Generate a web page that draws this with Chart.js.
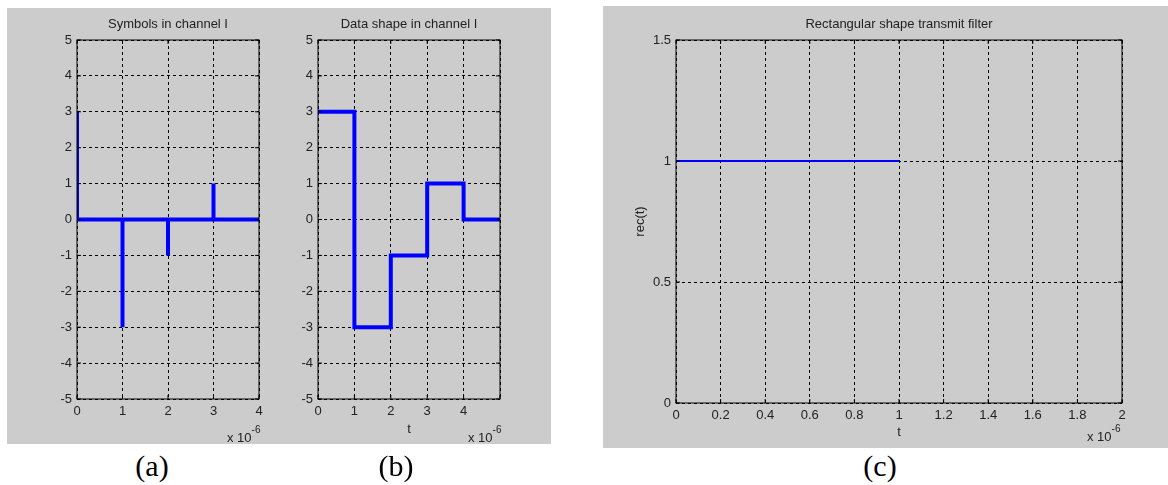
<!DOCTYPE html>
<html>
<head>
<meta charset="UTF-8">
<title>Symbols, data shape and transmit filter</title>
<script src="https://cdn.jsdelivr.net/npm/chart.js@4.4.1/dist/chart.umd.min.js"></script>
<style>
body { margin:0; background:#fff; width:1168px; height:485px; position:relative; overflow:hidden; font-family:"Liberation Sans", Arial, sans-serif; }
.panel { position:absolute; background:#cccccc; }
canvas { position:absolute; }
.exp { position:absolute; font-size:13px; line-height:13px; color:#222; white-space:nowrap; }
.exp span { font-size:10px; position:relative; top:-9px; }
.cap { position:absolute; font-family:"Liberation Serif", "Times New Roman", serif; font-size:30px; line-height:30px; transform:translateX(-50%); }
</style>
</head>
<body>
<div class="panel" style="left:7px;top:8px;width:544px;height:436px"></div>
<div class="panel" style="left:603px;top:6px;width:565px;height:442px"></div>
<canvas id="chA" width="283" height="436" style="left:7px;top:8px"></canvas>
<canvas id="chB" width="261" height="436" style="left:290px;top:8px"></canvas>
<canvas id="chC" width="565" height="442" style="left:603px;top:6px"></canvas>
<div class="exp" style="left:227px;top:431px">x 10<span>-6</span></div>
<div class="exp" style="left:468px;top:431px">x 10<span>-6</span></div>
<div class="exp" style="left:1087px;top:430px">x 10<span>-6</span></div>
<div class="cap" style="left:152px;top:451px">(a)</div>
<div class="cap" style="left:396px;top:451px">(b)</div>
<div class="cap" style="left:880px;top:451px">(c)</div>

<script type="text/javascript">
// time axis in units of 1e-6 s
const symTime = [0, 1, 2, 3];
const symValue = [3, -3, -1, 1];
const symEnd = 4;

const shapeTime = [0, 1, 2, 3, 4, 5];
const shapeValue = [3, -3, -1, 1, 0, 0];

const recTime = [0, 1];
const recValue = [1, 1];

const yTicksAB = [-5, -4, -3, -2, -1, 0, 1, 2, 3, 4, 5];
const xTicksA = [0, 1, 2, 3, 4];
const xTicksB = [0, 1, 2, 3, 4, 5];
const xLabelsB = ['0', '1', '2', '3', '4', ''];
const yTicksC = [0, 0.5, 1, 1.5];
const xTicksC = [0, 0.2, 0.4, 0.6, 0.8, 1, 1.2, 1.4, 1.6, 1.8, 2];

Chart.defaults.font.family = '"Liberation Sans", Arial, sans-serif';
Chart.defaults.font.size = 13;
Chart.defaults.color = '#222';

// stem path: baseline with a vertical spike at each symbol
let stem = [];
symTime.forEach(function (t, i) {
    stem.push({x: t, y: 0}, {x: t, y: symValue[i]}, {x: t, y: 0});
});
stem.push({x: symEnd, y: 0});

let shape = shapeTime.map(function (t, i) { return {x: t, y: shapeValue[i]}; });
let rec = recTime.map(function (t, i) { return {x: t, y: recValue[i]}; });

// MATLAB style solid box with inner tick marks
const boxPlugin = {
    id: 'matlabBox',
    afterDatasetsDraw(chart) {
        const ctx = chart.ctx, a = chart.chartArea;
        const sx = chart.scales.x, sy = chart.scales.y;
        const tl = 4;
        ctx.save();
        ctx.setLineDash([]);
        ctx.strokeStyle = '#000';
        ctx.lineWidth = 1;
        ctx.beginPath();
        sx.ticks.forEach(function (t) {
            const px = sx.getPixelForValue(t.value);
            ctx.moveTo(px, a.bottom); ctx.lineTo(px, a.bottom - tl);
            ctx.moveTo(px, a.top); ctx.lineTo(px, a.top + tl);
        });
        sy.ticks.forEach(function (t) {
            const py = sy.getPixelForValue(t.value);
            ctx.moveTo(a.left, py); ctx.lineTo(a.left + tl, py);
            ctx.moveTo(a.right, py); ctx.lineTo(a.right - tl, py);
        });
        ctx.stroke();
        ctx.strokeRect(a.left, a.top, a.right - a.left, a.bottom - a.top);
        ctx.restore();
    }
};

function scale(min, max, ticks, labels, fit) {
    return {
        type: 'linear', min: min, max: max,
        afterBuildTicks: function (s) { s.ticks = ticks.map(function (v) { return {value: v}; }); },
        afterFit: fit,
        grid: { color: '#000', lineWidth: 1, drawTicks: false },
        border: { display: false, dash: [3, 3] },
        ticks: {
            padding: 5, autoSkip: false, maxRotation: 0, color: '#222',
            callback: function (v, i) { return labels ? labels[i] : String(v); }
        }
    };
}

function makeChart(id, points, width, title, titlePad, pad, x, y) {
    return new Chart(document.getElementById(id), {
        type: 'line',
        data: { datasets: [{
            data: points, borderColor: '#0000ff', borderWidth: width,
            pointRadius: 0, tension: 0, clip: 0,
            borderJoinStyle: 'miter', borderCapStyle: 'butt',
            stepped: id === 'chB'
        }]},
        options: {
            responsive: false, animation: false, devicePixelRatio: 1,
            layout: { padding: pad },
            plugins: {
                legend: { display: false }, tooltip: { enabled: false },
                title: { display: true, text: title, fullSize: false, color: '#222',
                         font: { size: 13, weight: 'normal' }, padding: titlePad }
            },
            scales: { x: x, y: y }
        },
        plugins: [boxPlugin]
    });
}

// (a)
makeChart('chA', stem, 4, 'Symbols in channel I', {top: 8.2, bottom: 8.2},
    {left: 50, right: 31, top: 0, bottom: 0},
    scale(0, 4, xTicksA, null, function (s) { s.height = 45; }),
    scale(-5, 5, yTicksAB, null, function (s) { s.width = 20; }));

// (b)
let xb = scale(0, 5, xTicksB, xLabelsB, function (s) { s.height = 45; });
xb.title = { display: true, text: 't', color: '#222', font: {size: 13}, padding: {top: 0, bottom: 7.2} };
makeChart('chB', shape, 4, 'Data shape in channel I', {top: 8.2, bottom: 8.2},
    {left: 8, right: 51, top: 0, bottom: 0},
    xb,
    scale(-5, 5, yTicksAB, null, function (s) { s.width = 20; }));

// (c)
let xc = scale(0, 2, xTicksC, null, function (s) { s.height = 45; });
xc.title = { display: true, text: 't', color: '#222', font: {size: 13}, padding: {top: 0, bottom: 8.2} };
let yc = scale(0, 1.5, yTicksC, null, function (s) { s.width = 73; });
yc.title = { display: true, text: 'rec(t)', color: '#222', font: {size: 13}, padding: {top: 29.2, bottom: 0} };
makeChart('chC', rec, 2, 'Rectangular shape transmit filter', {top: 10.2, bottom: 8.2},
    {left: 0, right: 46, top: 0, bottom: 0},
    xc, yc);
</script>
</body>
</html>
